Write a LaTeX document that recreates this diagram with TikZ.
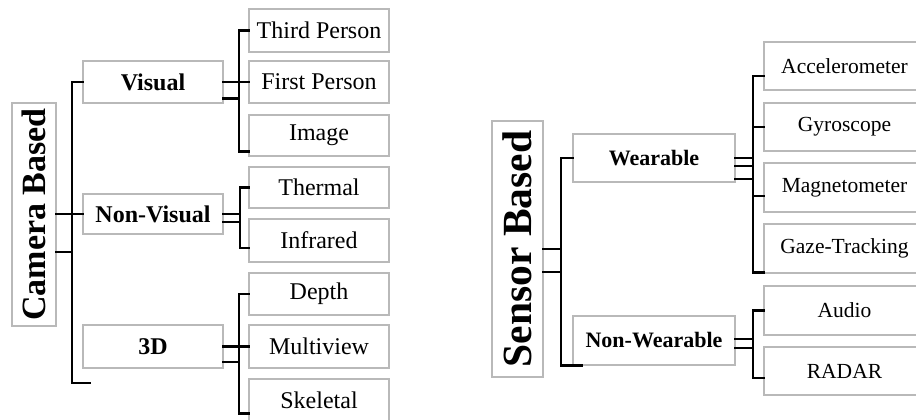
\documentclass[tikz,border=0pt]{standalone}
\usepackage{fontspec}
\setmainfont{Liberation Serif}
\usetikzlibrary{calc}

\tikzset{
  box/.style={draw=gray!55, line width=1.3pt, fill=white, inner sep=0pt,
              minimum width=#1},
  box/.default=140,
  lbox/.style={box=140, font=\fontsize{24}{24}\selectfont},
  rbox/.style={box=162, font=\fontsize{22}{22}\selectfont},
  leafr/.style={box=161, minimum height=48, font=\fontsize{21.5}{21.5}\selectfont},
  rootbox/.style={draw=gray!55, line width=1.3pt, fill=white, inner sep=0pt,
                  font=\bfseries, rotate=90},
  conn/.style={draw=black, line width=2.4pt, line cap=rect, line join=miter},
}

\begin{document}
\begin{tikzpicture}[x=1pt, y=-1pt]
  \fill[white] (0,0) rectangle (916,420);
  \useasboundingbox (0,0) rectangle (916,420);

  % ---------------- Camera based tree ----------------
  \node[rootbox, minimum width=223, minimum height=44,
        font=\fontsize{34}{34}\selectfont\bfseries] (cam) at (34,214.5) {Camera Based};

  \node[lbox, minimum height=42, font=\fontsize{24}{24}\selectfont\bfseries] (vis) at (153,82) {Visual};
  \node[lbox, minimum height=40, font=\fontsize{24}{24}\selectfont\bfseries] (nvis) at (153,214) {Non-Visual};
  \node[lbox, minimum height=43, font=\fontsize{24}{24}\selectfont\bfseries] (tri) at (153,346.5) {3D};

  \node[lbox, minimum height=43] (third) at (319,30.5) {Third Person};
  \node[lbox, minimum height=42] (first) at (319,82) {First Person};
  \node[lbox, minimum height=41] (img)   at (319,135.5) {Image};
  \node[lbox, minimum height=41] (therm) at (319,187.5) {Thermal};
  \node[lbox, minimum height=43] (infr)  at (319,240.5) {Infrared};
  \node[lbox, minimum height=42] (depth) at (319,294) {Depth};
  \node[lbox, minimum height=43] (multi) at (319,346.5) {Multiview};
  \node[lbox, minimum height=42] (skel)  at (319,400) {Skeletal};

  \coordinate (mt) at (72,0);
  \coordinate (tv) at (239,0);
  \coordinate (tn) at (240,0);
  \coordinate (camend) at (90,383);

  % main trunk (the rotated root box has its south side on the right)
  \draw[conn] (vis.west) -- (vis.west -| mt) -- (mt |- camend) -- (camend);
  \draw[conn] (cam.south |- nvis.west) -- (nvis.west);
  \draw[conn] ($(cam.south |- nvis.west)+(0,38)$) -- ($(mt |- nvis.west)+(0,38)$);

  % visual branch
  \draw[conn] (third.west) -- (third.west -| tv)
              -- ($(tv |- img.south)+(0,-5)$) -- ($(img.south west)+(0,-5)$);
  \draw[conn] (vis.east) -- (first.west);
  \draw[conn] ($(vis.south east)+(0,-5)$) -- ($(tv |- vis.south east)+(0,-5)$);

  % non-visual branch
  \draw[conn] (therm.west) -- (therm.west -| tn)
              -- ($(tn |- infr.west)+(0,7.5)$) -- ($(infr.west)+(0,7.5)$);
  \draw[conn] (nvis.east) -- (nvis.east -| tn);
  \draw[conn] ($(nvis.east)+(0,8)$) -- ($(tn |- nvis.east)+(0,8)$);

  % 3D branch
  \draw[conn] (depth.west) -- (depth.west -| tv)
              -- ($(tv |- skel.south)+(0,-8)$) -- ($(skel.south west)+(0,-8)$);
  \draw[conn] (tri.east) -- (multi.west);
  \draw[conn] ($(tri.east)+(0,15.5)$) -- ($(tv |- tri.east)+(0,15.5)$);

  % ---------------- Sensor based tree ----------------
  \node[rootbox, minimum width=256, minimum height=51,
        font=\fontsize{41.5}{41.5}\selectfont\bfseries] (sen) at (517.5,249) {Sensor Based};

  \node[rbox, minimum height=48, font=\fontsize{22}{22}\selectfont\bfseries] (wear) at (654,158) {Wearable};
  \node[rbox, minimum height=49, font=\fontsize{22}{22}\selectfont\bfseries] (nwear) at (654,340.5) {Non-Wearable};

  \node[leafr] (acc)  at (844.5,66)    {Accelerometer};
  \node[leafr] (gyro) at (844.5,127)   {Gyroscope};
  \node[leafr, minimum height=49] (mag)  at (844.5,187.5) {Magnetometer};
  \node[leafr, minimum height=49] (gaze) at (844.5,248.5) {Gaze-Tracking};
  \node[leafr, minimum height=49] (aud)  at (844.5,310.5) {Audio};
  \node[leafr] (radar) at (844.5,371)  {RADAR};

  \coordinate (st) at (561,0);
  \coordinate (wt) at (753,0);

  % sensor trunk
  \draw[conn] (wear.west) -- (wear.west -| st)
              -- (st |- nwear.south) -- ($(nwear.south west)+(9,0)$);
  \draw[conn] (sen.south) -- (sen.south -| st);
  \draw[conn] ($(sen.south)+(0,23)$) -- ($(st |- sen.south)+(0,23)$);

  % wearable branch
  \draw[conn] ($(acc.west)+(0,10)$) -- ($(wt |- acc.west)+(0,10)$)
              -- ($(wt |- gaze.south)+(0,-1)$) -- ($(gaze.south west)+(0,-1)$);
  \draw[conn] (gyro.west) -- (gyro.west -| wt);
  \draw[conn] ($(mag.west)+(0,8.5)$) -- ($(wt |- mag.west)+(0,8.5)$);
  \draw[conn] (wear.east) -- (wear.east -| wt);
  \draw[conn] ($(wear.east)+(0,8)$) -- ($(wt |- wear.east)+(0,8)$);
  \draw[conn] ($(wear.east)+(0,21)$) -- ($(wt |- wear.east)+(0,21)$);

  % non-wearable branch
  \draw[conn] (aud.west) -- (aud.west -| wt)
              -- ($(wt |- radar.west)+(0,7)$) -- ($(radar.west)+(0,7)$);
  \draw[conn] ($(nwear.east)+(0,-1.5)$) -- ($(wt |- nwear.east)+(0,-1.5)$);
  \draw[conn] ($(nwear.east)+(0,7.5)$) -- ($(wt |- nwear.east)+(0,7.5)$);
\end{tikzpicture}
\end{document}
